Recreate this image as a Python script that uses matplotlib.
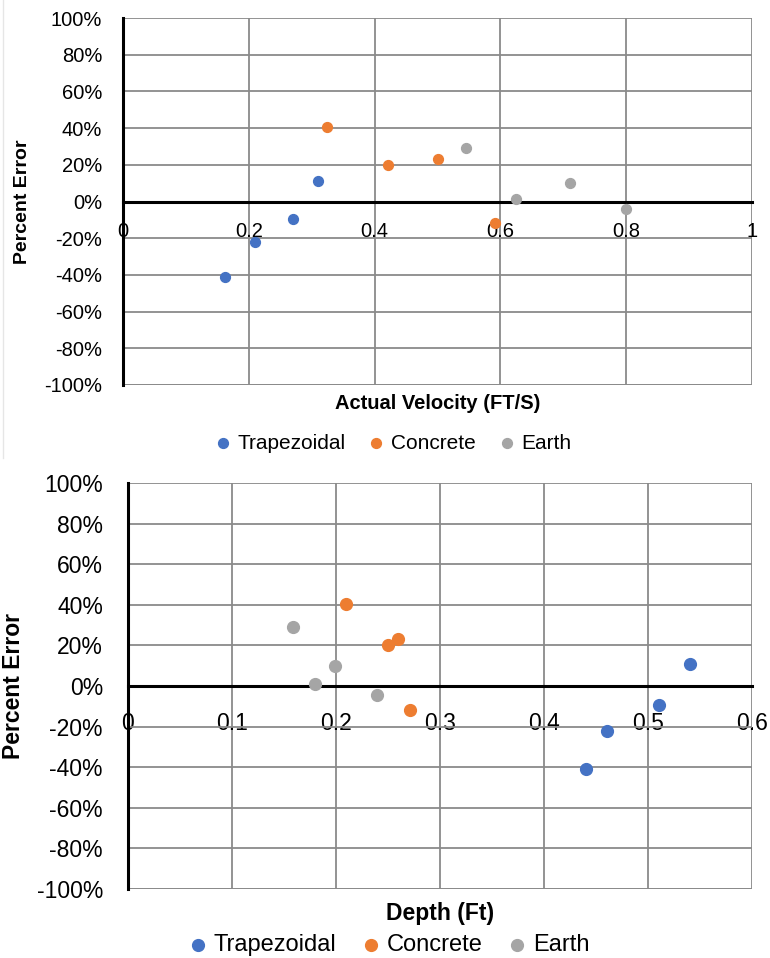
import matplotlib.pyplot as plt
from matplotlib.ticker import PercentFormatter, FixedLocator
from matplotlib.lines import Line2D

plt.rcParams['font.family'] = ['Liberation Sans', 'DejaVu Sans']
plt.rcParams['axes.unicode_minus'] = False

# Percent error values (same for both charts)
trap_err = [-41, -22, -9.5, 11]
conc_err = [40.5, 20, 23.2, -11.9]
earth_err = [29, 1.2, 10, -4.3]

# Top chart: actual velocity (ft/s)
trap_vel = [0.162, 0.21, 0.27, 0.31]
conc_vel = [0.324, 0.422, 0.50, 0.592]
earth_vel = [0.546, 0.625, 0.711, 0.80]

# Bottom chart: depth (ft)
trap_depth = [0.44, 0.461, 0.511, 0.54]
conc_depth = [0.21, 0.25, 0.26, 0.271]
earth_depth = [0.159, 0.18, 0.199, 0.239]

series_names = ['Trapezoidal', 'Concrete', 'Earth']
colors = ['#4472C4', '#ED7D31', '#A5A5A5']

fig = plt.figure(figsize=(7.7, 9.58), dpi=100)
ax1 = fig.add_axes([123 / 770, 1 - 385 / 958, 629 / 770, 367 / 958])
ax2 = fig.add_axes([128 / 770, 1 - 889 / 958, 624 / 770, 406 / 958])

# faint frame edge on the left of the top chart
fig.add_artist(Line2D([3 / 770, 3 / 770], [1 - 458 / 958, 1], color='#e6e6e6', linewidth=1))


def style_axis(ax, xmax, xstep, fs, ypad, xpad):
    ax.set_xlim(0, xmax)
    ax.set_ylim(-100, 100)
    ax.yaxis.set_major_locator(FixedLocator(range(-100, 101, 20)))
    nticks = int(round(xmax / xstep))
    ax.xaxis.set_major_locator(FixedLocator([i * xstep for i in range(nticks + 1)]))
    ax.yaxis.set_major_formatter(PercentFormatter(decimals=0))
    ax.xaxis.set_major_formatter(lambda v, p: '0' if v == 0 else ('1' if abs(v - 1) < 1e-9 else f'{v:g}'))
    ax.grid(True, color='#8a8a8a', linewidth=1.3)
    ax.set_axisbelow(True)
    for s in ['top', 'right']:
        ax.spines[s].set_visible(False)
    ax.spines['left'].set_linewidth(2.2)
    ax.spines['left'].set_color('black')
    ax.spines['bottom'].set_position(('data', 0))
    ax.spines['bottom'].set_linewidth(2.2)
    ax.spines['bottom'].set_color('black')
    ax.tick_params(axis='y', length=0, pad=ypad, labelsize=fs)
    ax.tick_params(axis='x', length=0, pad=xpad, labelsize=fs)
    # horizontal grid line at the bottom edge
    ax.axhline(-100, color='#8a8a8a', linewidth=1.3, zorder=0.5)


style_axis(ax1, 1.0, 0.2, 14.5, 15, 15)
style_axis(ax2, 0.6, 0.1, 16.5, 18, 19)

for xs, ys, c, name in zip([trap_vel, conc_vel, earth_vel],
                           [trap_err, conc_err, earth_err], colors, series_names):
    ax1.scatter(xs, ys, s=50, color=c, label=name, zorder=3, clip_on=False)

for xs, ys, c, name in zip([trap_depth, conc_depth, earth_depth],
                           [trap_err, conc_err, earth_err], colors, series_names):
    ax2.scatter(xs, ys, s=72, color=c, label=name, zorder=3, clip_on=False)

ax1.set_ylabel('Percent Error', fontsize=14, fontweight='bold')
ax1.yaxis.set_label_coords(-0.146, 0.5)
ax1.set_xlabel('Actual Velocity (FT/S)', fontsize=14.5, fontweight='bold')
ax1.xaxis.set_label_coords(0.5, -0.025)

ax2.set_ylabel('Percent Error', fontsize=16.5, fontweight='bold')
ax2.yaxis.set_label_coords(-0.165, 0.5)
ax2.set_xlabel('Depth (Ft)', fontsize=16.5, fontweight='bold')
ax2.xaxis.set_label_coords(0.5, -0.032)

h1, l1 = ax1.get_legend_handles_labels()
fig.legend(h1, l1, loc='center', bbox_to_anchor=(394 / 770, 1 - 443 / 958), ncol=3,
           frameon=False, fontsize=15, handlelength=0.6, handletextpad=0.4,
           columnspacing=1.2)
h2, l2 = ax2.get_legend_handles_labels()
fig.legend(h2, l2, loc='center', bbox_to_anchor=(390 / 770, 1 - 945 / 958), ncol=3,
           frameon=False, fontsize=17, handlelength=0.6, handletextpad=0.38,
           columnspacing=1.15)

fig.savefig('out.png', dpi=100)
